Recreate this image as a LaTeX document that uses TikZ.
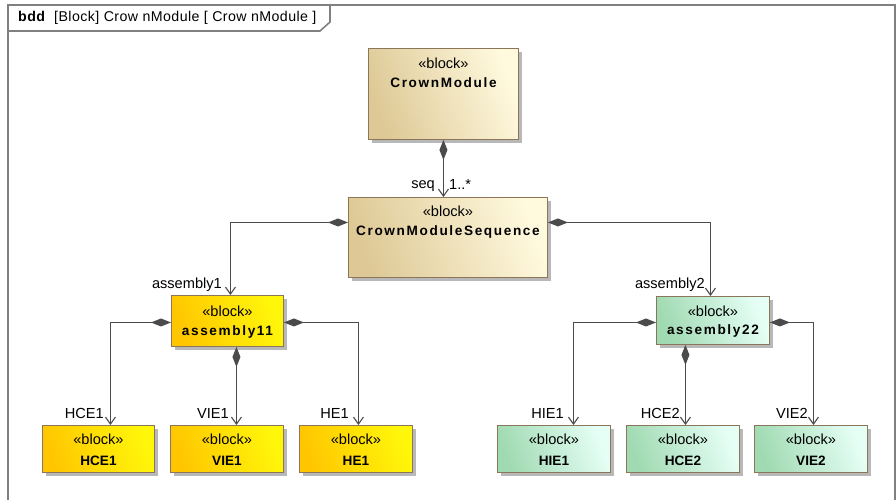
\documentclass[tikz,border=0pt]{standalone}
\usepackage{fontspec}
\setmainfont{Liberation Sans}
\usetikzlibrary{arrows.meta,shadows}

\definecolor{tanL}{RGB}{222,201,150}
\definecolor{tanR}{RGB}{255,249,222}
\definecolor{yelL}{RGB}{255,198,0}
\definecolor{yelR}{RGB}{255,247,10}
\definecolor{grnL}{RGB}{160,218,178}
\definecolor{grnR}{RGB}{230,255,246}
\definecolor{edgeC}{RGB}{140,118,90}
\definecolor{lineC}{RGB}{75,75,75}
\definecolor{frameC}{RGB}{128,128,128}

\newcommand{\stereo}{\guillemotleft block\guillemotright}

\tikzset{
  blk/.style={draw=edgeC, line width=0.9pt, rectangle, anchor=north west,
    inner sep=0pt,
    drop shadow={shadow xshift=4pt, shadow yshift=-4pt, fill=black!35, opacity=0.8}},
  tanblk/.style={blk, left color=tanL, right color=tanR, shading angle=110},
  yelblk/.style={blk, left color=yelL, right color=yelR, shading angle=110},
  grnblk/.style={blk, left color=grnL, right color=grnR, shading angle=110},
  stype/.style={inner sep=0pt, font=\fontsize{14.6}{17}\selectfont},
  bname/.style={inner sep=0pt, font=\fontsize{13.6}{16}\selectfont\bfseries},
  wide/.style={font=\fontsize{13.6}{16}\selectfont\bfseries\addfontfeature{LetterSpace=12}},
  lbl/.style={inner sep=0pt, anchor=east, font=\fontsize{14.6}{17}\selectfont},
  comp/.style={draw=lineC, line width=1.3pt,
    {Diamond[length=20pt,width=8pt,fill=lineC]}-{Straight Barb[length=7pt,width=10pt,line width=1.1pt]}},
  frameline/.style={draw=frameC, line width=1.6pt},
}

\begin{document}
\begin{tikzpicture}[x=1pt,y=-1pt]
\useasboundingbox (0,0) rectangle (896,499);

% diagram frame and its title tab
\draw[frameline] (8,505) -- (8,5) -- (895,5) -- (895,505);
\draw[frameline] (8,31) -- (320,31) -- (330,22) -- (330,5);
\node[inner sep=0pt, anchor=west, font=\fontsize{14.2}{16}\selectfont\addfontfeature{LetterSpace=3}] (title) at (18,18)
  {\textbf{bdd}\ \ [Block]\ Crow nModule [\ Crow nModule\ ]};

% blocks
\node[tanblk, minimum width=150, minimum height=91] (cm) at (368,48) {};
\node[tanblk, minimum width=199, minimum height=80] (cms) at (348,197) {};
\node[yelblk, minimum width=112, minimum height=51] (a11) at (171,295) {};
\node[grnblk, minimum width=113, minimum height=48] (a22) at (656,296) {};
\node[yelblk, minimum width=112, minimum height=47] (hce1) at (42,425) {};
\node[yelblk, minimum width=113, minimum height=47] (vie1) at (170,425) {};
\node[yelblk, minimum width=113, minimum height=47] (he1) at (299,425) {};
\node[grnblk, minimum width=113, minimum height=47] (hie1) at (497,425) {};
\node[grnblk, minimum width=113, minimum height=47] (hce2) at (626,425) {};
\node[grnblk, minimum width=113, minimum height=47] (vie2) at (754,425) {};

% block texts
\node[stype] (cmS) at ([yshift=-15]cm.north) {\stereo};
\node[bname, wide] (cmN) at ([yshift=-35]cm.north) {CrownModule};
\node[stype] (cmsS) at ([yshift=-14]cms.north) {\stereo};
\node[bname, wide] (cmsN) at ([yshift=-35]cms.north) {CrownModuleSequence};
\node[stype] (a11S) at ([yshift=-16]a11.north) {\stereo};
\node[bname, wide] (a11N) at ([yshift=-37]a11.north) {assembly11};
\node[stype] (a22S) at ([yshift=-15]a22.north) {\stereo};
\node[bname, wide] (a22N) at ([yshift=-35]a22.north) {assembly22};
\foreach \b/\t in {hce1/HCE1, vie1/VIE1, he1/HE1, hie1/HIE1, hce2/HCE2, vie2/VIE2}{
  \node[stype] (\b S) at ([yshift=-14]\b.north) {\stereo};
  \node[bname] (\b N) at ([yshift=-36]\b.north) {\t};
}

% composition connectors
\draw[comp] (cm.south) -- (cm.south |- cms.north);
\draw[comp] ([yshift=15]cms.west) -| ([xshift=3]a11.north);
\draw[comp] ([yshift=15]cms.east) -| ([xshift=-2.5]a22.north);
\draw[comp] ([yshift=-1.5]a11.west) -| ([xshift=12]hce1.north);
\draw[comp] ([xshift=9]a11.south) -- ([xshift=9]a11.south |- vie1.north);
\draw[comp] ([yshift=-1.5]a11.east) -| ([xshift=2.5]he1.north);
\draw[comp] ([yshift=-2]a22.west) -| ([xshift=19.5]hie1.north);
\draw[comp] ([xshift=-27.5]a22.south) -- ([xshift=-27.5]a22.south |- hce2.north);
\draw[comp] ([yshift=-2]a22.east) -| ([xshift=2.5]vie2.north);

% role names and multiplicity
\node[lbl] (lseq) at (435,186) {seq};
\node[lbl, anchor=west] (lmul) at (449,184) {1..*};
\node[lbl] (la1) at (222,285) {assembly1};
\node[lbl] (la2) at (705,285) {assembly2};
\node[lbl] (lhce1) at (104,413) {HCE1};
\node[lbl] (lvie1) at (229,413) {VIE1};
\node[lbl] (lhe1) at (349,413) {HE1};
\node[lbl] (lhie1) at (564,413) {HIE1};
\node[lbl] (lhce2) at (680,413) {HCE2};
\node[lbl] (lvie2) at (808,413) {VIE2};
\end{tikzpicture}
\end{document}
